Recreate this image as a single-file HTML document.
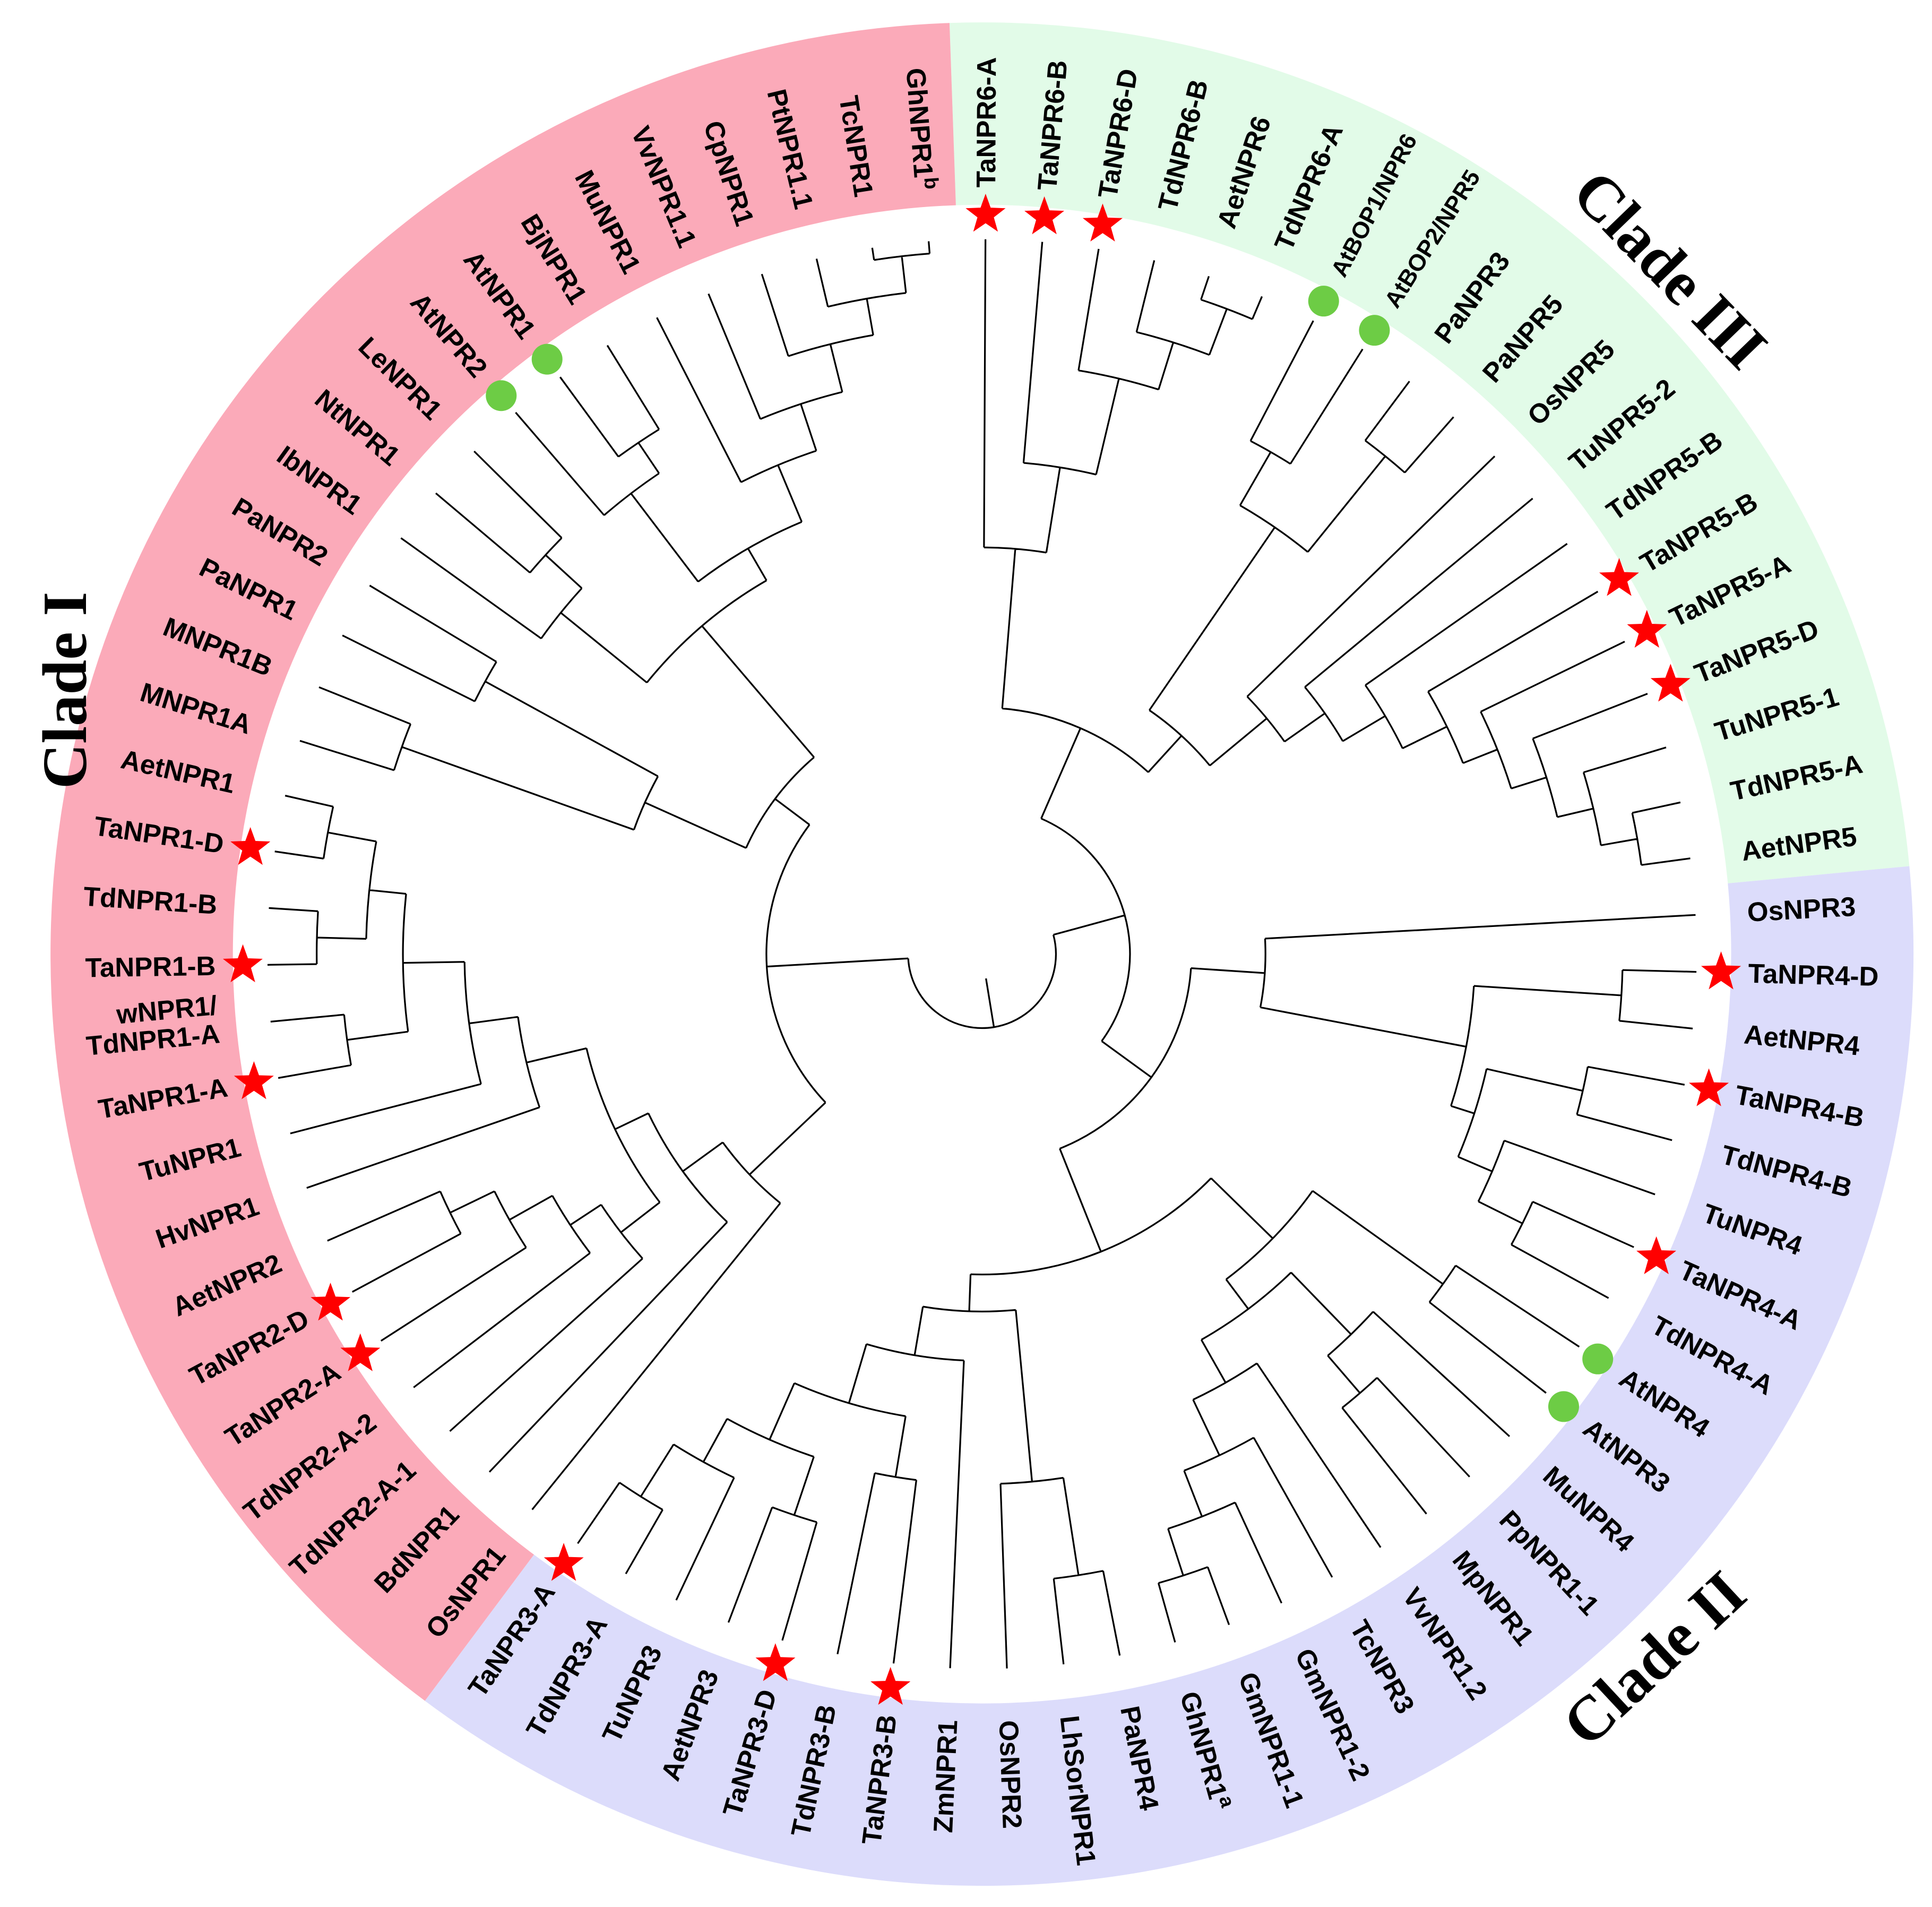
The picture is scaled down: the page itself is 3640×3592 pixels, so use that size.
<!DOCTYPE html>
<html><head><meta charset="utf-8"><style>
html,body{margin:0;padding:0;background:#fff;}
svg{display:block;}
</style></head><body>
<svg id="s" xmlns="http://www.w3.org/2000/svg" width="3640" height="3592" viewBox="0 0 1568 1547"></svg>
<script>
const cx=797,cy=774,N=79,a0=-92,step=360/79,TIP=580,RIN=608,ROUT=756,LR=622;
const R=Math.PI/180;
function ang(i){return a0+step*(i+0.5);}
function P(r,a){return [cx+r*Math.cos(a*R),cy+r*Math.sin(a*R)];}
let out=[];
function sector(a1,a2,col){
 const p1=P(ROUT,a1),p2=P(ROUT,a2),p3=P(RIN,a2),p4=P(RIN,a1);
 const lg=(a2-a1)>180?1:0;
 out.push(`<path d="M${p1} A${ROUT} ${ROUT} 0 ${lg} 1 ${p2} L${p3} A${RIN} ${RIN} 0 ${lg} 0 ${p4}Z" fill="${col}"/>`);
}
sector(a0,a0+step*19,'#e2fbe8');
sector(a0+step*19,a0+step*48,'#dcdcfb');
sector(a0+step*48,a0+360,'#fbaab9');
let lines=[];
function draw(n){
 if(typeof n==='number') return {a:ang(n),r:TIP};
 const r=n[0];const k=n.slice(1).map(draw);
 k.forEach(c=>{const p=P(r,c.a),q=P(c.r,c.a);lines.push(`M${p[0].toFixed(1)} ${p[1].toFixed(1)}L${q[0].toFixed(1)} ${q[1].toFixed(1)}`);});
 const a1=k[0].a,a2=k[k.length-1].a,p1=P(r,a1),p2=P(r,a2);
 lines.push(`M${p1[0].toFixed(1)} ${p1[1].toFixed(1)}A${r} ${r} 0 ${(a2-a1)>180?1:0} 1 ${p2[0].toFixed(1)} ${p2[1].toFixed(1)}`);
 return {a:(a1+a2)/2,r:r};
}
const G=[200,[330,0,[400,1,[480,2,[520,3,[560,4,5]]]]],[240,[420,[470,6,7],[520,8,9]],[300,10,[340,11,[380,12,[420,13,[450,14,[480,15,[510,16,[540,17,18]]]]]]]]]];
const B=[170,[230,19,[400,[520,20,21],[420,[500,22,23],[450,24,[490,25,26]]]]],[260,[330,[460,27,28],[360,[430,29,[470,30,31]],[400,32,[450,33,[490,34,[530,35,36]]]]]],[290,[430,[510,37,38],39],[330,40,[380,[430,41,42],[430,[480,43,44],[470,45,[520,46,47]]]]]]]];
const Pk=[175,[260,48,[300,49,[330,[370,50,[400,51,[440,52,[480,53,54]]]],[380,55,[420,56,[470,[520,57,58],[500,[540,59,60],[540,61,62]]]]]]]],[210,[300,[500,63,64],[460,65,66]],[280,[350,[440,67,[480,68,69]],[380,[470,70,[500,71,72]],[430,73,[470,74,[510,75,[540,76,[570,77,78]]]]]]]]]];
const root=draw([60,[120,G,B],Pk]);
{const p=P(60,root.a),q=P(20,root.a);lines.push(`M${p}L${q}`);}
out.push(`<path d="${lines.join('')}" fill="none" stroke="#000" stroke-width="1.4"/>`);
const names=["TaNPR6-A","TaNPR6-B","TaNPR6-D","TdNPR6-B","AetNPR6","TdNPR6-A","AtBOP1/NPR6","AtBOP2/NPR5","PaNPR3","PaNPR5","OsNPR5","TuNPR5-2","TdNPR5-B","TaNPR5-B","TaNPR5-A","TaNPR5-D","TuNPR5-1","TdNPR5-A","AetNPR5",
"OsNPR3","TaNPR4-D","AetNPR4","TaNPR4-B","TdNPR4-B","TuNPR4","TaNPR4-A","TdNPR4-A","AtNPR4","AtNPR3","MuNPR4","PpNPR1-1","MpNPR1","VvNPR1.2","TcNPR3","GmNPR1-2","GmNPR1-1","GhNPR1|a","PaNPR4","LhSorNPR1","OsNPR2","ZmNPR1","TaNPR3-B","TdNPR3-B","TaNPR3-D","AetNPR3","TuNPR3","TdNPR3-A","TaNPR3-A",
"OsNPR1","BdNPR1","TdNPR2-A-1","TdNPR2-A-2","TaNPR2-A","TaNPR2-D","AetNPR2","HvNPR1","TuNPR1","TaNPR1-A","W","TaNPR1-B","TdNPR1-B","TaNPR1-D","AetNPR1","MNPR1A","MNPR1B","PaNPR1","PaNPR2","IbNPR1","NtNPR1","LeNPR1","AtNPR2","AtNPR1","BjNPR1","MuNPR1","VvNPR1.1","CpNPR1","PtNPR1.1","TcNPR1","GhNPR1|b"];
names.forEach((nm,i)=>{
 const a=ang(i);const left=Math.cos(a*R)<0;
 const fs=(i==6||i==7)?19:22;
 let content;
 if(nm==="W"){content=`<tspan x="${cx-LR}" dy="-0.45em">wNPR1/</tspan><tspan x="${cx-LR}" dy="1.05em">TdNPR1-A</tspan>`;}
 else if(nm.includes('|')){const [b,s]=nm.split('|');content=`${b}<tspan dy="-0.5em" font-size="16">${s}</tspan>`;}
 else content=nm;
 if(left) out.push(`<text x="${cx-LR}" y="${cy}" dy="0.35em" text-anchor="end" font-size="${fs}" transform="rotate(${(a+180).toFixed(2)} ${cx} ${cy})">${content}</text>`);
 else out.push(`<text x="${cx+LR}" y="${cy}" dy="0.35em" font-size="${fs}" transform="rotate(${a.toFixed(2)} ${cx} ${cy})">${content}</text>`);
});
function star(x,y,ro,ri){let p=[];for(let k=0;k<10;k++){const r=k%2?ri:ro;const t=(-90+36*k)*R;p.push((x+r*Math.cos(t)).toFixed(1)+','+(y+r*Math.sin(t)).toFixed(1));}return `<polygon points="${p.join(' ')}" fill="#ff0000"/>`;}
[0,1,2,13,14,15,20,22,25,41,43,47,52,53,57,59,61].forEach(i=>{const p=P(600,ang(i));out.push(star(p[0],p[1],17,7));});
[6,7,27,28,70,71].forEach(i=>{const p=P(598,ang(i));out.push(`<circle cx="${p[0]}" cy="${p[1]}" r="12.5" fill="#6dcc45"/>`);});
out.push(`<g font-family="'Liberation Serif',serif" font-weight="bold" font-size="51" text-anchor="middle">
<text x="0" y="0" dy="0.35em" transform="translate(52,560) rotate(-90)">Clade I</text>
<text x="0" y="0" dy="0.35em" transform="translate(1356,218) rotate(46)">Clade III</text>
<text x="0" y="0" dy="0.35em" transform="translate(1342,1345) rotate(-43)">Clade II</text></g>`);
const s=document.getElementById('s');
s.innerHTML=`<rect width="1568" height="1547" fill="#fff"/><g font-family="'Liberation Sans',sans-serif" font-weight="bold" fill="#000">${out.join('')}</g>`;
</script>
</body></html>
